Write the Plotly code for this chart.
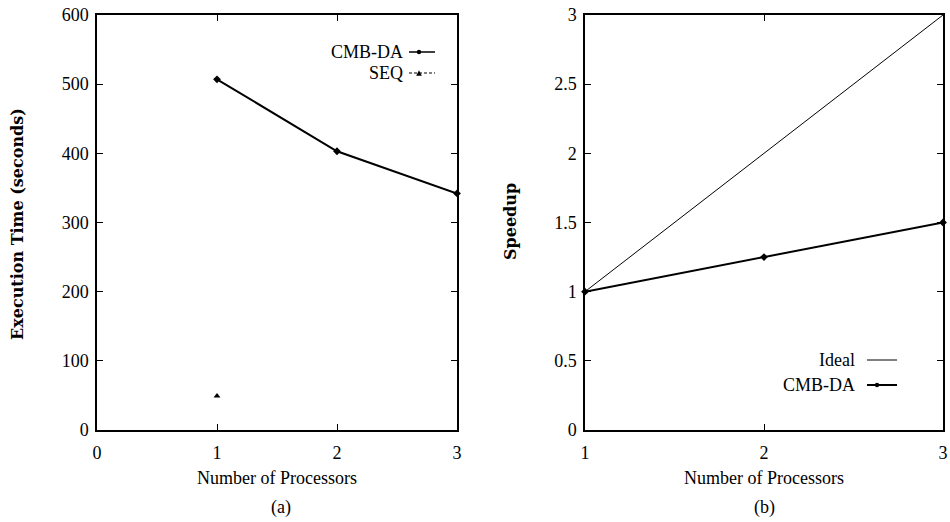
import plotly.graph_objects as go

# ---- data ----
procs = [1, 2, 3]
cmb_da_time = [507, 403, 342]
seq_proc = [1]
seq_time = [49]
ideal_speedup = [1, 2, 3]
cmb_da_speedup = [1.0, 1.25, 1.5]

W, H = 950, 522
def fx(p): return p / W
def fy(p): return 1 - p / H

FONT = "Liberation Serif"
TFONT = "DejaVu Serif"

fig = go.Figure()

fig.add_trace(go.Scatter(x=procs, y=cmb_da_time, mode="lines+markers", xaxis="x", yaxis="y",
                         line=dict(color="black", width=2), marker=dict(symbol="diamond", size=6, color="black"),
                         showlegend=False, cliponaxis=False))
fig.add_trace(go.Scatter(x=seq_proc, y=seq_time, mode="markers", xaxis="x", yaxis="y",
                         marker=dict(symbol="triangle-up", size=6, color="black"), showlegend=False))
fig.add_trace(go.Scatter(x=procs, y=ideal_speedup, mode="lines", xaxis="x2", yaxis="y2",
                         line=dict(color="black", width=1), showlegend=False))
fig.add_trace(go.Scatter(x=procs, y=cmb_da_speedup, mode="lines+markers", xaxis="x2", yaxis="y2",
                         line=dict(color="black", width=2), marker=dict(symbol="diamond", size=6, color="black"),
                         showlegend=False, cliponaxis=False))

axcommon = dict(showline=True, linecolor="black", linewidth=1.5, mirror="ticks", ticks="inside",
                ticklen=6, tickcolor="black", tickwidth=1, showgrid=False, zeroline=False,
                automargin=False,
                tickfont=dict(family=FONT, size=18, color="black"))

fig.update_layout(
    template="none",
    width=W, height=H, margin=dict(l=0, r=0, t=0, b=0, autoexpand=False),
    plot_bgcolor="white", paper_bgcolor="white",
    xaxis=dict(domain=[fx(97), fx(457)], range=[0, 3], tickvals=[0, 1, 2, 3], anchor="y",
               ticklabelstandoff=6, **axcommon),
    yaxis=dict(domain=[fy(430), fy(15)], range=[0, 600], tickvals=[0, 100, 200, 300, 400, 500, 600],
               anchor="x", ticklabelstandoff=3, **axcommon),
    xaxis2=dict(domain=[fx(585), fx(943)], range=[1, 3], tickvals=[1, 2, 3], anchor="y2",
                ticklabelstandoff=6, **axcommon),
    yaxis2=dict(domain=[fy(430), fy(15)], range=[0, 3], tickvals=[0, 0.5, 1, 1.5, 2, 2.5, 3],
                ticktext=["0", "0.5", "1", "1.5", "2", "2.5", "3"],
                anchor="x2", ticklabelstandoff=3, **axcommon),
)

ann = []
def txt(text, x, y, size=18, family=FONT, xanchor="center", angle=0, bold=False):
    ann.append(dict(text=("<b>%s</b>" % text) if bold else text, x=fx(x), y=fy(y), xref="paper", yref="paper",
                    showarrow=False, xanchor=xanchor, yanchor="middle", textangle=angle,
                    font=dict(family=family, size=size, color="black")))

txt("Number of Processors", 277, 478)
txt("(a)", 281, 507)
txt("Number of Processors", 764, 478)
txt("(b)", 764, 507)
txt("Execution Time (seconds)", 17, 224, size=16, family=TFONT, angle=-90, bold=True)
txt("Speedup", 510, 222, size=16, family=TFONT, angle=-90, bold=True)

# legends
txt("CMB-DA", 405, 52, xanchor="right")
txt("SEQ", 405, 73, xanchor="right")
txt("Ideal", 857, 360, xanchor="right")
txt("CMB-DA", 857, 385, xanchor="right")
fig.update_layout(annotations=ann)

shapes = []
def seg(x0, x1, y, width=1.5, dash="solid"):
    shapes.append(dict(type="line", xref="paper", yref="paper", x0=fx(x0), x1=fx(x1), y0=fy(y), y1=fy(y),
                       line=dict(color="black", width=width, dash=dash)))
def dot(x, y, r=2.2):
    shapes.append(dict(type="circle", xref="paper", yref="paper", x0=fx(x - r), x1=fx(x + r),
                       y0=fy(y + r), y1=fy(y - r), fillcolor="black", line=dict(color="black", width=0)))
def tri(x, y, r=2.8):
    shapes.append(dict(type="path", xref="paper", yref="paper",
                       path="M %f %f L %f %f L %f %f Z" % (fx(x - r), fy(y + r), fx(x + r), fy(y + r), fx(x), fy(y - r)),
                       fillcolor="black", line=dict(color="black", width=0)))

seg(409, 435, 52, 1.5)
dot(419, 52)
seg(409, 435, 73, 1, dash="3px,2px")
tri(419, 73)
seg(867, 897, 360, 1)
seg(867, 897, 385, 2)
dot(877, 385)
fig.update_layout(shapes=shapes)

fig.write_html("out.html", config={"displayModeBar": False},
               post_script="document.body.style.margin='0px';document.documentElement.style.overflow='hidden';")
